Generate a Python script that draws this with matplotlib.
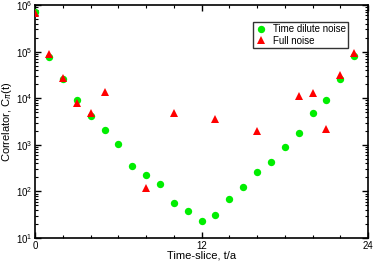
import numpy as np
import matplotlib
matplotlib.use('Agg')
import matplotlib.pyplot as plt
from matplotlib.ticker import LogLocator, MultipleLocator, FixedLocator, NullFormatter

plt.rcParams['font.family'] = ['Liberation Sans', 'DejaVu Sans']

# --- data ---
t_dilute = list(range(24))
c_dilute = [7.2e5, 7.8e4, 2.6e4, 9.1e3, 4.15e3, 2.08e3, 1.03e3, 356, 225, 142,
            57, 38, 23.5, 31, 68, 124, 257, 421, 898, 1820,
            4.9e3, 9.3e3, 2.54e4, 8.05e4]

t_full = [0, 1, 2, 3, 4, 5, 8, 10, 13, 16, 19, 20, 21, 22, 23]
c_full = [6.6e5, 8.7e4, 2.76e4, 7.9e3, 4.9e3, 1.38e4, 120, 4.74e3, 3.52e3,
          1.95e3, 1.11e4, 1.27e4, 2.15e3, 3.19e4, 9.2e4]

x_ticks = [0, 12, 24]

fig = plt.figure(figsize=(3.74, 2.63), dpi=100)
ax = fig.add_axes([0.094, 0.095, 0.89, 0.886])

ax.plot(t_dilute, c_dilute, 'o', color='#00ee00', markersize=5.3,
        markeredgewidth=0, label='Time dilute noise', zorder=3)
ax.plot(t_full, c_full, '^', color='#ff0000', markersize=5.3,
        markeredgewidth=0, label='Full noise', zorder=4)

ax.set_yscale('log')
ax.set_xlim(0, 24)
ax.set_ylim(10, 1e6)

ax.xaxis.set_major_locator(FixedLocator(x_ticks))
ax.xaxis.set_minor_locator(MultipleLocator(2))
ax.yaxis.set_major_locator(LogLocator(base=10, numticks=10))
ax.yaxis.set_minor_locator(LogLocator(base=10, subs=np.arange(2, 10), numticks=20))
ax.yaxis.set_minor_formatter(NullFormatter())

ax.tick_params(which='both', direction='in', top=True, right=True, labelsize=7, pad=2)
ax.tick_params(which='major', length=4, width=1)
ax.tick_params(which='minor', length=2.5, width=0.8)
for s in ax.spines.values():
    s.set_linewidth(1.2)

ax.set_xlabel('Time-slice, t/a', fontsize=8, labelpad=0)
ax.set_ylabel(r'Correlator, C$_\pi$(t)', fontsize=8, labelpad=1)

leg = ax.legend(loc='upper right', bbox_to_anchor=(0.94, 0.928), fontsize=7,
                frameon=True, fancybox=False, edgecolor='black',
                borderaxespad=0, handletextpad=0.6, borderpad=0.25,
                labelspacing=0.15, handlelength=1.2)
leg.get_frame().set_linewidth(1.0)

fig.savefig('out.png', dpi=100)
